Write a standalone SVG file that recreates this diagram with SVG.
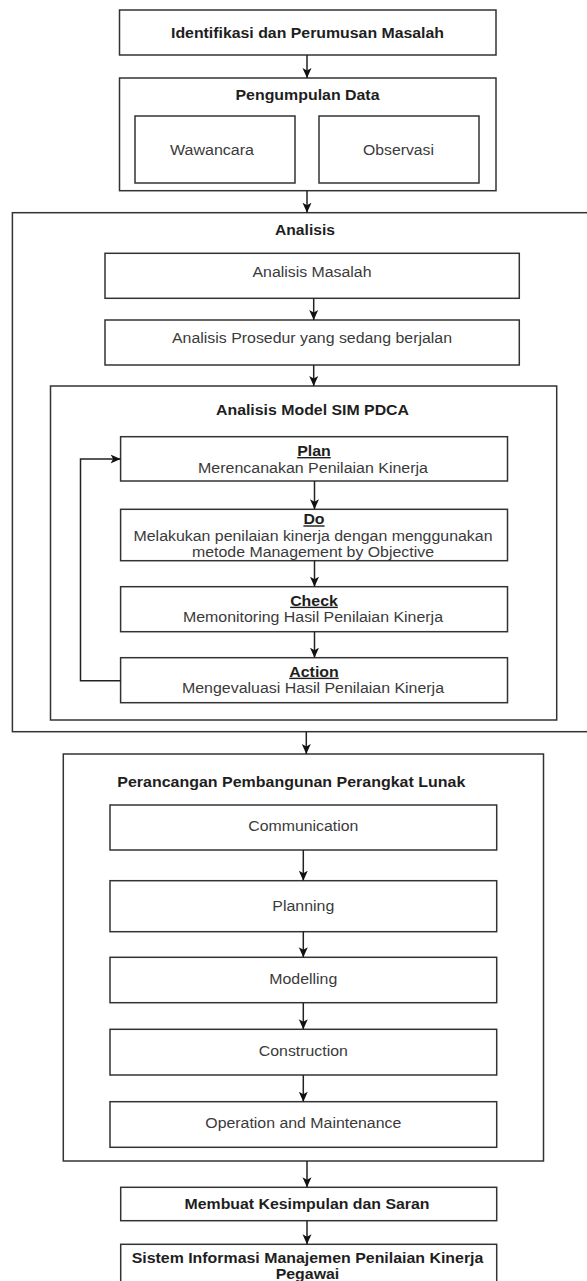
<svg xmlns="http://www.w3.org/2000/svg" width="587" height="1281" viewBox="0 0 587 1281">
<style>
  rect { fill: #ffffff; stroke: #333333; stroke-width: 1.5; }
  .t { font-family: "Liberation Sans", Arial, sans-serif; font-size: 14px; fill: #3a3a3a; text-anchor: middle; }
  .b { font-family: "Liberation Sans", Arial, sans-serif; font-size: 14px; font-weight: bold; fill: #1e1e1e; text-anchor: middle; }
  .u { text-decoration: underline; }
  .c { fill: none; stroke: #222222; stroke-width: 1.5; }
</style>
<defs>
  <marker id="ah" viewBox="0 0 10 10" refX="10" refY="5" markerWidth="10" markerHeight="10" markerUnits="userSpaceOnUse" orient="auto">
    <path d="M0,0.5 L10,5 L0,9.5 L2.5,5 z" fill="#111111"/>
  </marker>
</defs>
<rect x="0" y="0" width="587" height="1281" style="fill:#ffffff;stroke:none"/>

<g id="identifikasi">
  <rect x="119.5" y="10" width="376.5" height="45"/>
  <text class="b" x="307.5" y="38" textLength="273" lengthAdjust="spacingAndGlyphs">Identifikasi dan Perumusan Masalah</text>
</g>
<g id="pengumpulan">
  <rect x="119.5" y="78" width="376.5" height="112.7"/>
  <text class="b" x="307.5" y="100" textLength="144" lengthAdjust="spacingAndGlyphs">Pengumpulan Data</text>
</g>
<g id="wawancara">
  <rect x="135" y="116" width="160" height="67"/>
  <text class="t" x="212" y="155" textLength="84" lengthAdjust="spacingAndGlyphs">Wawancara</text>
</g>
<g id="observasi">
  <rect x="319" y="116" width="160" height="67"/>
  <text class="t" x="398.5" y="155" textLength="71" lengthAdjust="spacingAndGlyphs">Observasi</text>
</g>

<g id="analisis">
  <rect x="12.4" y="212.7" width="586" height="519"/>
  <text class="b" x="305" y="235" textLength="60" lengthAdjust="spacingAndGlyphs">Analisis</text>
</g>
<g id="analisis-masalah">
  <rect x="105" y="253.3" width="414.3" height="45"/>
  <text class="t" x="312" y="276.7" textLength="119" lengthAdjust="spacingAndGlyphs">Analisis Masalah</text>
</g>
<g id="analisis-prosedur">
  <rect x="105" y="320" width="414.3" height="45"/>
  <text class="t" x="312" y="343.3" textLength="280" lengthAdjust="spacingAndGlyphs">Analisis Prosedur yang sedang berjalan</text>
</g>
<g id="analisis-model">
  <rect x="50.5" y="386" width="506.2" height="334"/>
  <text class="b" x="312.5" y="415" textLength="193" lengthAdjust="spacingAndGlyphs">Analisis Model SIM PDCA</text>
</g>
<g id="plan">
  <rect x="120.6" y="436.7" width="386.9" height="44.3"/>
  <text class="b u" x="314" y="456" textLength="33.6" lengthAdjust="spacingAndGlyphs">Plan</text>
  <text class="t" x="313" y="472.7" textLength="230" lengthAdjust="spacingAndGlyphs">Merencanakan Penilaian Kinerja</text>
</g>
<g id="do">
  <rect x="120.6" y="509.3" width="386.9" height="51.4"/>
  <text class="b u" x="314" y="524.3" textLength="21.2" lengthAdjust="spacingAndGlyphs">Do</text>
  <text class="t" x="313" y="540.7" textLength="359" lengthAdjust="spacingAndGlyphs">Melakukan penilaian kinerja dengan menggunakan</text>
  <text class="t" x="313" y="557.3" textLength="242" lengthAdjust="spacingAndGlyphs">metode Management by Objective</text>
</g>
<g id="check">
  <rect x="120.6" y="586.7" width="386.9" height="45"/>
  <text class="b u" x="314" y="605.7" textLength="47.7" lengthAdjust="spacingAndGlyphs">Check</text>
  <text class="t" x="313" y="622.3" textLength="260" lengthAdjust="spacingAndGlyphs">Memonitoring Hasil Penilaian Kinerja</text>
</g>
<g id="action">
  <rect x="120.6" y="657.7" width="386.9" height="45"/>
  <text class="b u" x="314" y="676.7" textLength="49.5" lengthAdjust="spacingAndGlyphs">Action</text>
  <text class="t" x="313" y="693.3" textLength="262" lengthAdjust="spacingAndGlyphs">Mengevaluasi Hasil Penilaian Kinerja</text>
</g>

<g id="perancangan">
  <rect x="63.3" y="754" width="480.2" height="407"/>
  <text class="b" x="117.3" y="786.5" style="text-anchor:start" textLength="348" lengthAdjust="spacingAndGlyphs">Perancangan Pembangunan Perangkat Lunak</text>
</g>
<g id="communication">
  <rect x="110" y="805" width="386.7" height="45"/>
  <text class="t" x="303.3" y="831" textLength="110" lengthAdjust="spacingAndGlyphs">Communication</text>
</g>
<g id="planning">
  <rect x="110" y="880.7" width="386.7" height="51"/>
  <text class="t" x="303.3" y="910.7" textLength="62" lengthAdjust="spacingAndGlyphs">Planning</text>
</g>
<g id="modelling">
  <rect x="110" y="957.3" width="386.7" height="45.4"/>
  <text class="t" x="303.3" y="984" textLength="68" lengthAdjust="spacingAndGlyphs">Modelling</text>
</g>
<g id="construction">
  <rect x="110" y="1029.3" width="386.7" height="45.7"/>
  <text class="t" x="303.3" y="1056" textLength="89" lengthAdjust="spacingAndGlyphs">Construction</text>
</g>
<g id="operation">
  <rect x="110" y="1101.7" width="386.7" height="45.6"/>
  <text class="t" x="303.3" y="1128.3" textLength="196" lengthAdjust="spacingAndGlyphs">Operation and Maintenance</text>
</g>

<g id="kesimpulan">
  <rect x="120.7" y="1187.3" width="376" height="33.4"/>
  <text class="b" x="307" y="1209" textLength="245" lengthAdjust="spacingAndGlyphs">Membuat Kesimpulan dan Saran</text>
</g>
<g id="sistem">
  <rect x="120.7" y="1244.3" width="376" height="50"/>
  <text class="b" x="307.5" y="1263.3" textLength="351.7" lengthAdjust="spacingAndGlyphs">Sistem Informasi Manajemen Penilaian Kinerja</text>
  <text class="b" x="307.5" y="1279" textLength="63.6" lengthAdjust="spacingAndGlyphs">Pegawai</text>
</g>

<g id="connectors">
  <line class="c" x1="307" y1="55" x2="307" y2="78" marker-end="url(#ah)"/>
  <line class="c" x1="307" y1="190.7" x2="307" y2="212.7" marker-end="url(#ah)"/>
  <line class="c" x1="313.7" y1="298.3" x2="313.7" y2="320" marker-end="url(#ah)"/>
  <line class="c" x1="313.7" y1="365" x2="313.7" y2="386" marker-end="url(#ah)"/>
  <line class="c" x1="314.5" y1="481" x2="314.5" y2="509.3" marker-end="url(#ah)"/>
  <line class="c" x1="314.5" y1="560.7" x2="314.5" y2="586.7" marker-end="url(#ah)"/>
  <line class="c" x1="314.5" y1="631.7" x2="314.5" y2="657.7" marker-end="url(#ah)"/>
  <polyline class="c" points="120.6,680.7 80.5,680.7 80.5,459 120.6,459" marker-end="url(#ah)"/>
  <line class="c" x1="306.3" y1="731.7" x2="306.3" y2="754" marker-end="url(#ah)"/>
  <line class="c" x1="303.3" y1="850" x2="303.3" y2="880.7" marker-end="url(#ah)"/>
  <line class="c" x1="303.3" y1="931.7" x2="303.3" y2="957.3" marker-end="url(#ah)"/>
  <line class="c" x1="303.3" y1="1002.7" x2="303.3" y2="1029.3" marker-end="url(#ah)"/>
  <line class="c" x1="303.3" y1="1075" x2="303.3" y2="1101.7" marker-end="url(#ah)"/>
  <line class="c" x1="307" y1="1161" x2="307" y2="1187.3" marker-end="url(#ah)"/>
  <line class="c" x1="307" y1="1220.7" x2="307" y2="1244.3" marker-end="url(#ah)"/>
</g>
</svg>
